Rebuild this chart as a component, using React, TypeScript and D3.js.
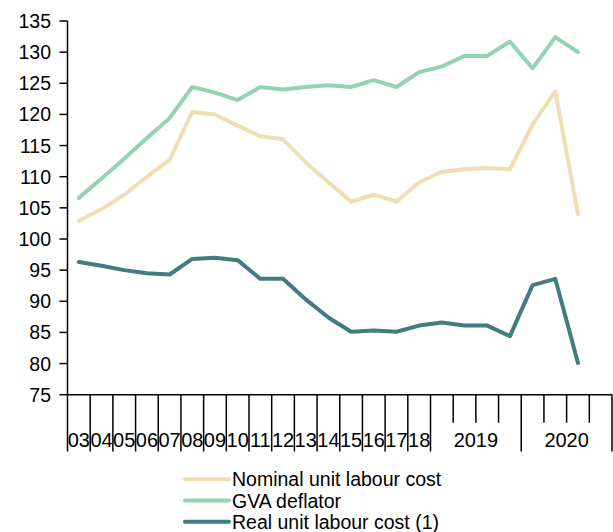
import React from "react";
import * as d3 from "d3";

const categories = ["03","04","05","06","07","08","09","10","11","12","13","14","15","16","17","18","2019Q1","2019Q2","2019Q3","2019Q4","2020Q1","2020Q2","2020Q3"];
const nominalULC = [102.9,104.8,107.1,110.0,112.7,120.4,120.0,118.2,116.5,116.0,112.3,109.1,106.0,107.1,106.0,109.1,110.8,111.2,111.4,111.2,118.4,123.7,104.0];
const gvaDeflator = [106.6,109.7,112.9,116.2,119.4,124.4,123.5,122.3,124.4,124.0,124.4,124.7,124.4,125.5,124.4,126.8,127.7,129.4,129.4,131.7,127.4,132.4,130.0];
const realULC = [96.3,95.7,95.0,94.5,94.3,96.8,97.0,96.6,93.6,93.6,90.3,87.4,85.1,85.3,85.1,86.1,86.6,86.1,86.1,84.4,92.6,93.6,80.1];
const yTicks = [75,80,85,90,95,100,105,110,115,120,125,130,135];
const annualLabels = ["03","04","05","06","07","08","09","10","11","12","13","14","15","16","17","18"];
const yearGroups = [{ label: "2019", start: 16, n: 4 }, { label: "2020", start: 20, n: 4 }];
const seriesNames = ["Nominal unit labour cost", "GVA deflator", "Real unit labour cost (1)"];
const seriesColors = ["#EFDDB3", "#93D2B3", "#427B80"];

const W = 613, H = 532;
const left = 67.5, right = 612;
const top = 21, bottom = 394.7;
const nBands = 24;

export default function App() {
  const x = d3.scaleLinear().domain([0, nBands]).range([left, right]);
  const y = d3.scaleLinear().domain([75, 135]).range([bottom, top]);
  const line = d3.line<number>().x((_, i) => x(i + 0.5)).y((d) => y(d));
  const series = [nominalULC, gvaDeflator, realULC];
  const font = "'Liberation Sans', Arial, sans-serif";

  const boundaries = d3.range(0, nBands + 1);
  const isLong = (b: number) => b <= 16 || b === 20 || b === 24;

  return (
    <svg width={W} height={H} style={{ position: "absolute", left: 0, top: 0, background: "#fff" }} fontFamily={font}>
      {/* y axis */}
      <line x1={left} x2={left} y1={top} y2={bottom} stroke="#000" strokeWidth={1.5} />
      {yTicks.map((t) => (
        <g key={t}>
          <line x1={left - 8} x2={left} y1={y(t)} y2={y(t)} stroke="#000" strokeWidth={1.5} />
          <text x={left - 16.5} y={y(t)} dy="0.36em" textAnchor="end" fontSize={19.5} fill="#000">{t}</text>
        </g>
      ))}
      {/* x axis */}
      <line x1={left} x2={right} y1={bottom} y2={bottom} stroke="#000" strokeWidth={1.5} />
      {boundaries.map((b) => (
        <line key={b} x1={x(b)} x2={x(b)} y1={bottom} y2={isLong(b) ? 451.5 : 422.7} stroke="#000" strokeWidth={1.5} />
      ))}
      {annualLabels.map((l, i) => (
        <text key={l} x={x(i + 0.5)} y={447} textAnchor="middle" fontSize={20} fill="#000">{l}</text>
      ))}
      {yearGroups.map((g) => (
        <text key={g.label} x={x(g.start + g.n / 2)} y={447} textAnchor="middle" fontSize={20} fill="#000">{g.label}</text>
      ))}
      {/* lines */}
      {series.map((s, k) => (
        <path key={k} d={line(s) || ""} fill="none" stroke={seriesColors[k]} strokeWidth={4} strokeLinejoin="round" strokeLinecap="round" />
      ))}
      {/* legend */}
      {seriesNames.map((n, k) => {
        const ly = 479.3 + k * 21.2;
        return (
          <g key={n}>
            <line x1={185} x2={229} y1={ly} y2={ly} stroke={seriesColors[k]} strokeWidth={4} strokeLinecap="round" />
            <text x={232} y={ly} dy="0.36em" fontSize={19.5} fill="#000">{n}</text>
          </g>
        );
      })}
    </svg>
  );
}
